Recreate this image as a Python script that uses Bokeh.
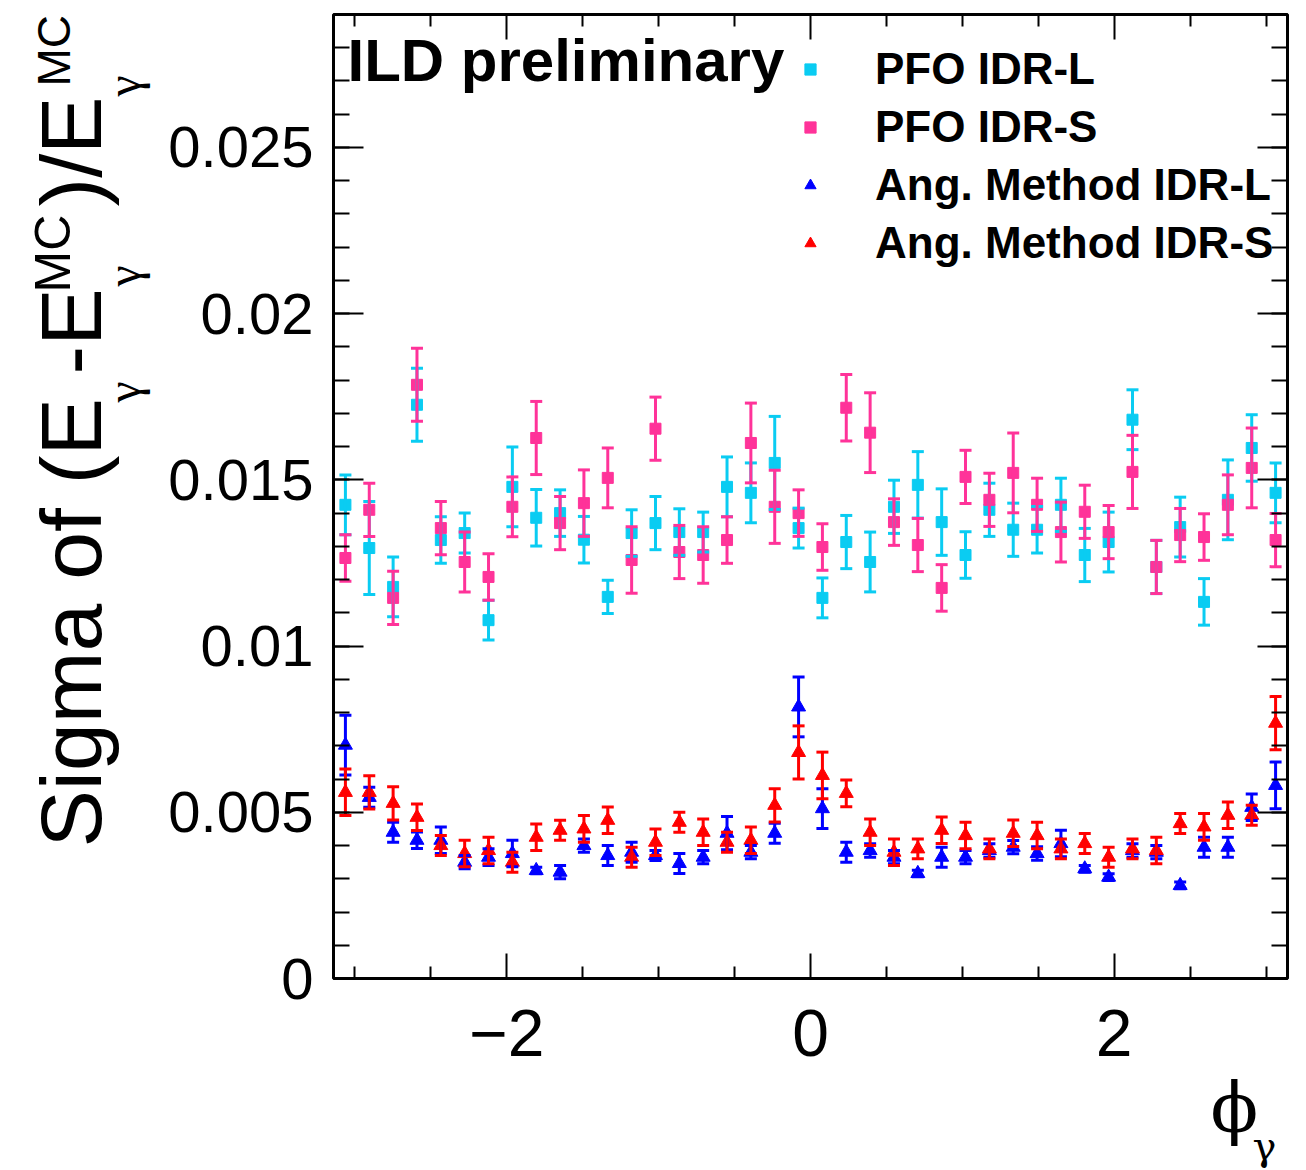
import numpy as np
from bokeh.plotting import figure
from bokeh.layouts import row, column
from bokeh.models import (ColumnDataSource, Whisker, TeeHead, FixedTicker, LinearAxis,
                          Label, Legend, LegendItem, Range1d, CustomJSTickFormatter)
from bokeh.embed import file_html
from bokeh.resources import INLINE

# ---------------- data ----------------
phi_centers = [-3.0631, -2.9060, -2.7489, -2.5918, -2.4347, -2.2777, -2.1206, -1.9635,
               -1.8064, -1.6493, -1.4923, -1.3352, -1.1781, -1.0210, -0.8639, -0.7069,
               -0.5498, -0.3927, -0.2356, -0.0785, 0.0785, 0.2356, 0.3927, 0.5498,
               0.7069, 0.8639, 1.0210, 1.1781, 1.3352, 1.4923, 1.6493, 1.8064,
               1.9635, 2.1206, 2.2777, 2.4347, 2.5918, 2.7489, 2.9060, 3.0631]

pfo_idr_l = [0.01425, 0.01295, 0.01178, 0.01726, 0.01319, 0.01340, 0.01078, 0.01479,
             0.01386, 0.01400, 0.01320, 0.01148, 0.01340, 0.01370, 0.01343, 0.01343,
             0.01479, 0.01461, 0.01551, 0.01355, 0.01145, 0.01313, 0.01253, 0.01419,
             0.01485, 0.01373, 0.01274, 0.01410, 0.01350, 0.01350, 0.01425, 0.01274,
             0.01313, 0.01681, 0.01238, 0.01358, 0.01133, 0.01440, 0.01596, 0.01461]
pfo_idr_l_err = [0.0009, 0.0014, 0.0009, 0.0011, 0.0007, 0.0006, 0.0006, 0.0012,
                 0.00085, 0.0007, 0.0007, 0.0005, 0.0007, 0.0008, 0.0007, 0.0006,
                 0.0009, 0.0009, 0.0014, 0.0006, 0.0006, 0.0008, 0.0009, 0.0008,
                 0.0010, 0.0010, 0.0007, 0.0008, 0.0008, 0.0007, 0.0008, 0.0008,
                 0.0009, 0.0009, 0.0008, 0.0009, 0.0007, 0.0012, 0.0010, 0.0009]

pfo_idr_s = [0.01265, 0.01410, 0.01145, 0.01786, 0.01355, 0.01253, 0.01208, 0.01419,
             0.01626, 0.01370, 0.01430, 0.01506, 0.01259, 0.01654, 0.01283, 0.01274,
             0.01319, 0.01611, 0.01419, 0.01400, 0.01298, 0.01717, 0.01642, 0.01373,
             0.01304, 0.01175, 0.01509, 0.01440, 0.01521, 0.01425, 0.01343, 0.01404,
             0.01343, 0.01524, 0.01238, 0.01334, 0.01328, 0.01425, 0.01536, 0.01319]
pfo_idr_s_err = [0.0007, 0.0008, 0.0008, 0.0011, 0.0008, 0.0009, 0.0007, 0.0009,
                 0.0011, 0.0008, 0.0010, 0.0009, 0.0010, 0.00095, 0.0008, 0.00085,
                 0.0007, 0.0012, 0.0011, 0.0007, 0.0007, 0.0010, 0.0012, 0.0007,
                 0.0008, 0.0007, 0.0008, 0.0008, 0.0012, 0.0008, 0.0009, 0.0008,
                 0.0008, 0.0011, 0.0008, 0.0008, 0.0007, 0.0009, 0.0012, 0.0008]

ang_idr_l = [0.00702, 0.00545, 0.00440, 0.00416, 0.00416, 0.00350, 0.00365, 0.00376,
             0.00325, 0.00320, 0.00400, 0.00370, 0.00380, 0.00370, 0.00346, 0.00365,
             0.00437, 0.00380, 0.00437, 0.00817, 0.00511, 0.00380, 0.00385, 0.00365,
             0.00316, 0.00365, 0.00365, 0.00385, 0.00395, 0.00376, 0.00406, 0.00330,
             0.00305, 0.00385, 0.00380, 0.00280, 0.00395, 0.00395, 0.00515, 0.00581]
ang_idr_l_err = [0.0009, 0.0003, 0.0003, 0.00025, 0.0004, 0.0002, 0.00025, 0.0004,
                 0.0001, 0.0002, 0.0002, 0.0003, 0.0003, 0.00015, 0.0003, 0.0002,
                 0.0005, 0.0002, 0.0003, 0.0009, 0.0006, 0.0003, 0.0002, 0.0002,
                 0.0001, 0.0003, 0.0002, 0.0002, 0.0002, 0.0002, 0.0004, 0.0001,
                 0.0001, 0.0002, 0.0002, 0.0001, 0.0003, 0.0003, 0.0004, 0.0007]

ang_idr_s = [0.00560, 0.00560, 0.00527, 0.00485, 0.00400, 0.00376, 0.00385, 0.00350,
             0.00425, 0.00446, 0.00450, 0.00476, 0.00365, 0.00410, 0.00470, 0.00440,
             0.00410, 0.00416, 0.00521, 0.00680, 0.00611, 0.00557, 0.00440, 0.00380,
             0.00390, 0.00446, 0.00430, 0.00390, 0.00437, 0.00430, 0.00390, 0.00406,
             0.00365, 0.00390, 0.00385, 0.00466, 0.00456, 0.00491, 0.00491, 0.00768]
ang_idr_s_err = [0.0007, 0.0005, 0.0005, 0.0004, 0.0003, 0.0004, 0.0004, 0.0003,
                 0.0004, 0.0003, 0.0004, 0.0004, 0.0003, 0.0004, 0.0003, 0.0004,
                 0.0003, 0.0004, 0.0005, 0.0008, 0.0007, 0.0004, 0.0004, 0.0004,
                 0.0003, 0.0004, 0.0004, 0.0003, 0.0004, 0.0004, 0.0003, 0.0003,
                 0.0003, 0.0003, 0.0004, 0.0003, 0.0004, 0.0004, 0.0003, 0.0008]

series_labels = ["PFO IDR-L", "PFO IDR-S", "Ang. Method IDR-L", "Ang. Method IDR-S"]

x_major_ticks = [-2, 0, 2]
x_tick_labels = ["\u22122", "0", "2"]
x_minor_ticks = [-3.0, -2.5, -1.5, -1.0, -0.5, 0.5, 1.0, 1.5, 2.5, 3.0]
y_major_ticks = [0, 0.005, 0.01, 0.015, 0.02, 0.025]
y_tick_labels = ["0", "0.005", "0.01", "0.015", "0.02", "0.025"]
y_minor_ticks = [0.001 * k for k in range(0, 30)]

# ---------------- layout constants ----------------
W, H = 1306, 1170
YFIG_W = 160            # strip holding the y title
MAIN_H = 1068           # main figure height
LEFT, RIGHT, TOP, BOTTOM = 173, 19, 14, 90
FRAME_L = YFIG_W + LEFT          # 333 in page pixels
FRAME_B = MAIN_H - BOTTOM        # 978 in page pixels
FONT = "Liberation Sans"
BASELINE_FIX = 0.36              # label baseline correction (fraction of font size)


def bare_figure(w, h, top=0, bottom=0):
    f = figure(width=w, height=h, output_backend="svg", toolbar_location=None,
               x_range=Range1d(0, 1), y_range=Range1d(0, 1),
               x_axis_location=None, y_axis_location=None,
               min_border_left=0, min_border_right=0,
               min_border_top=top, min_border_bottom=bottom)
    f.xgrid.visible = False
    f.ygrid.visible = False
    f.outline_line_color = None
    f.background_fill_color = "white"
    f.border_fill_color = "white"
    return f


p = figure(width=W - YFIG_W, height=MAIN_H, output_backend="svg", toolbar_location=None,
           x_range=Range1d(-np.pi, np.pi), y_range=Range1d(0, 0.029),
           x_axis_location=None, y_axis_location=None,
           min_border_left=LEFT, min_border_right=RIGHT,
           min_border_top=TOP, min_border_bottom=BOTTOM)
p.xgrid.visible = False
p.ygrid.visible = False
p.outline_line_color = "black"
p.outline_line_width = 3
p.background_fill_color = "white"
p.border_fill_color = "white"


def make_axis(kind, show_labels, major_len, minor_len, font_size, standoff):
    ax = LinearAxis()
    if kind == "x":
        ax.ticker = FixedTicker(ticks=x_major_ticks, minor_ticks=x_minor_ticks)
        overrides = dict(zip(x_major_ticks, x_tick_labels))
    else:
        ax.ticker = FixedTicker(ticks=y_major_ticks, minor_ticks=y_minor_ticks)
        overrides = dict(zip(y_major_ticks, y_tick_labels))
    if show_labels:
        ax.major_label_overrides = overrides
        ax.major_label_text_font = FONT
        ax.major_label_text_font_size = f"{font_size}px"
        ax.major_label_text_color = "black"
        ax.major_label_standoff = standoff
    else:
        ax.formatter = CustomJSTickFormatter(code="return '';")
        ax.major_label_text_font_size = "1px"
        ax.major_label_standoff = 0
    ax.axis_line_color = None
    ax.major_tick_in = major_len
    ax.major_tick_out = 0
    ax.minor_tick_in = minor_len
    ax.minor_tick_out = 0
    ax.major_tick_line_color = "black"
    ax.minor_tick_line_color = "black"
    ax.major_tick_line_width = 2
    ax.minor_tick_line_width = 2
    return ax


p.add_layout(make_axis("y", True, 30, 16, 58, 20), "left")
p.add_layout(make_axis("y", False, 30, 16, 0, 0), "right")
p.add_layout(make_axis("x", True, 25, 12, 66, 31), "below")
p.add_layout(make_axis("x", False, 25, 12, 0, 0), "above")

# ---------------- data series ----------------
styles = [
    (pfo_idr_l, pfo_idr_l_err, "#0ACCF2", "square", 11),
    (pfo_idr_s, pfo_idr_s_err, "#FF3399", "square", 11),
    (ang_idr_l, ang_idr_l_err, "#0000FF", "triangle", 14),
    (ang_idr_s, ang_idr_s_err, "#FF0000", "triangle", 14),
]
renderers = []
for vals, errs, color, marker, size in styles:
    v = np.array(vals)
    e = np.array(errs)
    src = ColumnDataSource(dict(x=phi_centers, y=vals, upper=list(v + e), lower=list(v - e)))
    w = Whisker(source=src, base="x", upper="upper", lower="lower",
                line_color=color, line_width=3, level="glyph",
                upper_head=TeeHead(size=12, line_color=color, line_width=3),
                lower_head=TeeHead(size=12, line_color=color, line_width=3))
    p.add_layout(w)
    r = p.scatter("x", "y", source=src, marker=marker, size=size,
                  fill_color=color, line_color=color, line_width=1)
    renderers.append(r)

# ---------------- legend ----------------
legend = Legend(items=[LegendItem(label=lab, renderers=[r]) for lab, r in zip(series_labels, renderers)],
                location=(463, 710), orientation="vertical",
                glyph_width=28, glyph_height=28, label_height=44, spacing=8,
                label_standoff=51, padding=0, margin=0,
                label_text_font=FONT, label_text_font_size="44px", label_text_font_style="bold",
                label_text_color="black",
                border_line_color=None, background_fill_alpha=0)
p.add_layout(legend, "center")


def add_hlabel(fig, frame_left, frame_bottom, px, py, text, size, font=FONT, style="normal"):
    """Horizontal text; (px, py) = page position of the text's left end on its baseline."""
    fig.add_layout(Label(x=px - frame_left, y=frame_bottom - py + BASELINE_FIX * size,
                         x_units="screen", y_units="screen",
                         text=text, text_font=font, text_font_size=f"{size}px",
                         text_font_style=style, text_align="left",
                         text_baseline="alphabetic", text_color="black"))


def add_vlabel(fig, frame_left, frame_bottom, px, py, text, size, font=FONT):
    """Text rotated 90 deg (reads upward); (px, py) = page position of baseline start."""
    fig.add_layout(Label(x=px - frame_left - BASELINE_FIX * size, y=frame_bottom - py,
                         x_units="screen", y_units="screen", angle=np.pi / 2,
                         text=text, text_font=font, text_font_size=f"{size}px",
                         text_align="left", text_baseline="alphabetic", text_color="black"))


# text inside the main frame
add_hlabel(p, FRAME_L, FRAME_B, 347, 82, "ILD preliminary", 60, style="bold")

# ---------------- y title strip ----------------
yfig = bare_figure(YFIG_W, MAIN_H, top=0, bottom=BOTTOM)
BASE_X, SUB_X, SUP_X = 101, 140, 70
y_title_parts = [
    (BASE_X, 847, "Sigma of (E", 86, FONT),
    (SUB_X, 402, "\u03b3", 48, "Liberation Serif"),
    (BASE_X, 374, "-E", 86, FONT),
    (SUB_X, 286, "\u03b3", 48, "Liberation Serif"),
    (SUP_X, 292, "MC", 50, FONT),
    (BASE_X, 206, ")/E", 86, FONT),
    (SUB_X, 96, "\u03b3", 48, "Liberation Serif"),
    (SUP_X, 86, "MC", 46, FONT),
]
for px_, py_, txt, sz, fnt in y_title_parts:
    add_vlabel(yfig, 0, FRAME_B, px_, py_, txt, sz, font=fnt)

# ---------------- x title strip ----------------
xfig = bare_figure(W, H - MAIN_H)
add_hlabel(xfig, 0, H, 1210, 1133, "\u03d5", 70, font="DejaVu Serif")
add_hlabel(xfig, 0, H, 1252, 1160, "\u03b3", 40, font="DejaVu Serif")

layout = column(row(yfig, p, spacing=0), xfig, spacing=0)
open("out.html", "w").write(file_html(layout, INLINE))
